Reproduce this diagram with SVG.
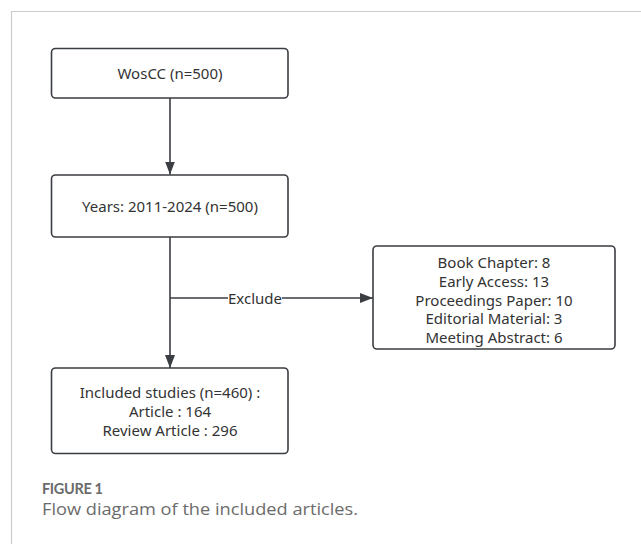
<svg xmlns="http://www.w3.org/2000/svg" width="641" height="544" viewBox="0 0 641 544">
<defs>
<style>
.box{fill:#fff;stroke:#3a3d42;stroke-width:1.6}
.t{font-family:"Noto Sans","Open Sans",sans-serif;font-size:15px;fill:#333;text-anchor:middle;dominant-baseline:central}
.ln{stroke:#3a3d42;stroke-width:1.6;fill:none}
.cap{fill:#6b6b6b}
</style>
<marker id="ah" viewBox="0 0 13 10" refX="13" refY="5" markerWidth="13" markerHeight="10" markerUnits="userSpaceOnUse" orient="auto">
<path d="M0,0 L13,5 L0,10 z" fill="#3a3d42"/>
</marker>
</defs>
<rect width="641" height="544" fill="#fff"/>
<path d="M11.5,544 V11.5 H641" fill="none" stroke="#ccc" stroke-width="1.2"/>
<g id="connectors">
<line class="ln" x1="170" y1="98" x2="170" y2="174.5" marker-end="url(#ah)"/>
<line class="ln" x1="170" y1="237" x2="170" y2="368" marker-end="url(#ah)"/>
<line class="ln" x1="170" y1="298" x2="373" y2="298" marker-end="url(#ah)"/>
<rect x="228" y="289" width="54" height="18" fill="#fff"/>
<text class="t" x="255" y="298">Exclude</text>
</g>
<g id="n1">
<rect class="box" x="51.5" y="48.5" width="236.5" height="49.5" rx="4"/>
<text class="t" x="170" y="73">WosCC (n=500)</text>
</g>
<g id="n2">
<rect class="box" x="51.5" y="175" width="236.5" height="62" rx="4"/>
<text class="t" x="170" y="206">Years: 2011-2024 (n=500)</text>
</g>
<g id="n3">
<rect class="box" x="373" y="246" width="242" height="103" rx="4"/>
<text class="t" x="494" y="262">Book Chapter: 8</text>
<text class="t" x="494" y="281">Early Access: 13</text>
<text class="t" x="494" y="299.5">Proceedings Paper: 10</text>
<text class="t" x="494" y="318">Editorial Material: 3</text>
<text class="t" x="494" y="337">Meeting Abstract: 6</text>
</g>
<g id="n4">
<rect class="box" x="51.5" y="368" width="236.5" height="85.5" rx="4"/>
<text class="t" x="170" y="392">Included studies (n=460) :</text>
<text class="t" x="170" y="411">Article : 164</text>
<text class="t" x="170" y="430">Review Article : 296</text>
</g>
<text class="cap" x="42" y="494" font-family="Lato, 'Liberation Sans', sans-serif" font-size="14.5" font-weight="bold" textLength="61">FIGURE 1</text>
<text class="cap" x="42" y="515" font-family="'Open Sans', 'Liberation Sans', sans-serif" font-size="16" textLength="316" lengthAdjust="spacingAndGlyphs">Flow diagram of the included articles.</text>
</svg>
